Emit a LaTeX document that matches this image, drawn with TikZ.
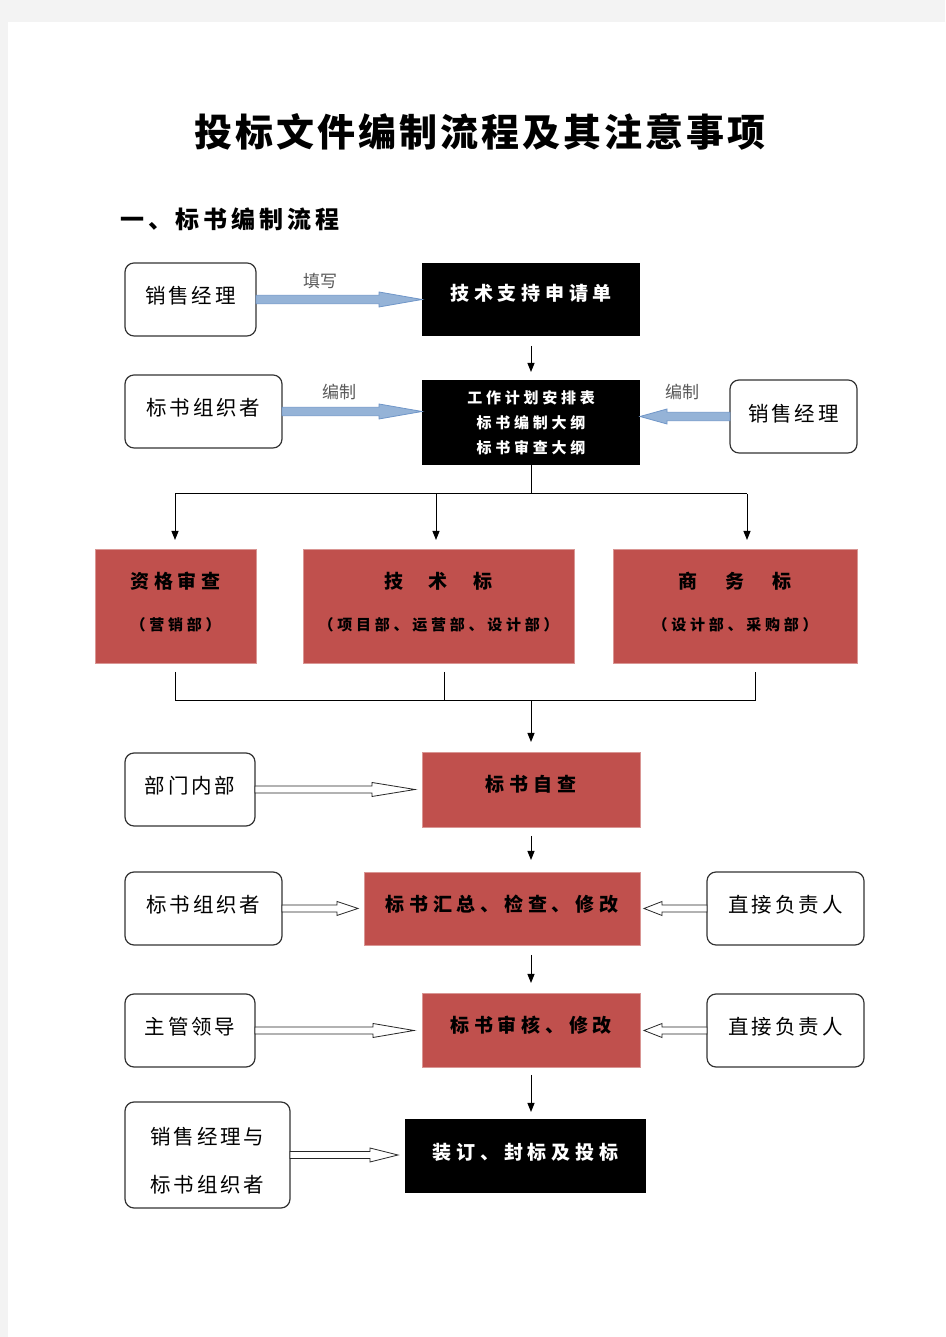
\documentclass[tikz,border=0pt]{standalone}
\usepackage{fontspec}
\setmainfont{Noto Sans CJK SC}
\newfontfamily\cjkA[LetterSpace=14]{Noto Sans CJK SC}
\newfontfamily\cjkB[LetterSpace=25]{Noto Sans CJK SC}
\newfontfamily\cjkT[LetterSpace=8]{Noto Sans CJK SC}
\newfontfamily\cjkH[LetterSpace=16]{Noto Sans CJK SC}
\usetikzlibrary{arrows.meta,calc}
\definecolor{pagegray}{HTML}{F3F3F3}
\definecolor{tred}{HTML}{C0504D}
\definecolor{tredline}{HTML}{D99694}
\definecolor{blfill}{HTML}{95B3D7}
\definecolor{bledge}{HTML}{7096C8}
\definecolor{lblgray}{HTML}{595959}
\definecolor{boxgray}{HTML}{333333}
\newcommand\up[2][9pt]{\raisebox{#1}{#2}}
\tikzset{
  rbox/.style={draw=boxgray, line width=1.2pt, rounded corners=9pt, fill=white,
    inner sep=0pt, outer sep=0pt, font=\cjkA\fontsize{20.5}{48}\selectfont, align=center},
  blkbox/.style={fill=black, text=white, inner sep=0pt, outer sep=0pt,
    font=\cjkB\bfseries\fontsize{19}{25}\selectfont, align=center},
  redbox/.style={fill=tred, draw=tredline, line width=0.6pt, inner sep=0pt, outer sep=0pt,
    font=\cjkB\bfseries\fontsize{19}{25}\selectfont},
  bigtxt/.style={inner sep=0pt, font=\cjkB\bfseries\fontsize{19}{25}\selectfont},
  smalltxt/.style={inner sep=0pt, font=\cjkB\bfseries\fontsize{15}{25}\selectfont},
  conn/.style={line width=1pt, draw=black},
  arr/.style={conn, -{Triangle[length=9pt,width=7pt]}},
  bluearr/.style={fill=blfill, draw=bledge, line width=0.8pt},
  hollowarr/.style={fill=white, draw=black!85, line width=0.8pt},
  lbl/.style={text=lblgray, inner sep=0pt, font=\fontsize{17}{20}\selectfont}
}
% fat arrow: style, from, to, half shaft, head length, half head
\newcommand\fatarr[6]{%
  \path[#1] let \p1=(#2), \p2=(#3), \n1={ifthenelse(\x2>\x1,1,-1)} in
    (\x1,\y1+#4pt) -- (\x2-\n1*#5pt,\y1+#4pt) -- (\x2-\n1*#5pt,\y1+#6pt) -- (\x2,\y1)
    -- (\x2-\n1*#5pt,\y1-#6pt) -- (\x2-\n1*#5pt,\y1-#4pt) -- (\x1,\y1-#4pt) -- cycle;}
\begin{document}
\begin{tikzpicture}[x=1pt,y=1pt]
\useasboundingbox (0,0) rectangle (945,1337);
\fill[pagegray] (0,0) rectangle (945,1337);
\fill[white] (8,0) rectangle (945,1315);

% titles
\node[inner sep=0pt, font=\cjkT\bfseries\fontsize{38}{40}\selectfont] (title) at (480,1205) {投标文件编制流程及其注意事项};
\node[inner sep=0pt, anchor=west, font=\cjkH\bfseries\fontsize{24}{28}\selectfont] (head) at (120,1118) {一、标书编制流程};

% row 1
\node[rbox, minimum width=131pt, minimum height=73pt] (A1) at (190.5,1037.5) {\up{销售经理}};
\node[blkbox, minimum width=218pt, minimum height=73pt] (B1) at (531,1037.5) {\up[14pt]{技术支持申请单}};
\fatarr{bluearr}{A1.east}{B1.west}{4.2}{43}{7.5}
\node[lbl] (l1) at (320,1056) {填写};

% row 2
\node[rbox, minimum width=157pt, minimum height=73pt] (A2) at (203.5,925.5) {\up{标书组织者}};
\node[blkbox, minimum width=218pt, minimum height=85pt,
  font=\cjkB\bfseries\fontsize{15}{25}\selectfont] (B2) at (531,914.5) {工作计划安排表\\标书编制大纲\\标书审查大纲};
\node[rbox, minimum width=127pt, minimum height=73pt] (C2) at (793.5,920.5) {\up[7pt]{销售经理}};
\fatarr{bluearr}{A2.east}{B2.west}{4.2}{43}{7.5}
\fatarr{bluearr}{C2.west}{B2.east}{4.2}{27}{7.5}
\node[lbl] (l2) at (339,945) {编制};
\node[lbl] (l3) at (682,945) {编制};
\draw[arr] ($(B1.south)+(0,-10)$) -- ($(B2.north)+(0,8)$);

% red row
\node[redbox, minimum width=161pt, minimum height=114pt] (R1) at (175.5,731) {};
\node[redbox, minimum width=271pt, minimum height=114pt] (R2) at (438.5,731) {};
\node[redbox, minimum width=244pt, minimum height=114pt] (R3) at (735,731) {};
\node[bigtxt] (R1a) at ($(R1.center)+(0,25)$) {资格审查};
\node[smalltxt] (R1b) at ($(R1.center)+(0,-19)$) {（营销部）};
\node[bigtxt] (R2a) at ($(R2.center)+(0,25)$) {技\hspace{26pt}术\hspace{26pt}标};
\node[smalltxt] (R2b) at ($(R2.center)+(0,-19)$) {（项目部、运营部、设计部）};
\node[bigtxt] (R3a) at ($(R3.center)+(0,25)$) {商\hspace{28pt}务\hspace{28pt}标};
\node[smalltxt] (R3b) at ($(R3.center)+(0,-19)$) {（设计部、采购部）};

% upper bus
\coordinate (bus0) at (531,843);
\coordinate (busL) at (175,843);
\coordinate (busM) at (436,843);
\coordinate (busR) at (747,843);
\draw[conn] (B2.south) -- (bus0);
\draw[conn] (busL) -- (busR);
\draw[arr] (busL) -- ($(busL |- R1.north)+(0,9)$);
\draw[arr] (busM) -- ($(busM |- R2.north)+(0,9)$);
\draw[arr] (busR) -- ($(busR |- R3.north)+(0,9)$);

% lower bus
\coordinate (lt1) at (175,665);
\coordinate (lt2) at (444,665);
\coordinate (lt3) at (755,665);
\coordinate (lb1) at (175,636);
\coordinate (lb2) at (444,636);
\coordinate (lb3) at (755,636);
\coordinate (lb0) at (531,636);
\draw[conn] (lt1) -- (lb1) -- (lb3) -- (lt3);
\draw[conn] (lt2) -- (lb2);

% self check
\node[rbox, minimum width=130pt, minimum height=73pt] (D1) at (190,547.5) {\up{部门内部}};
\node[redbox, minimum width=218pt, minimum height=75pt] (S1) at (531,547.5) {\up[13pt]{标书自查}};
\draw[arr] (lb0) -- ($(S1.north)+(0,10)$);
\fatarr{hollowarr}{D1.east}{$(S1.west)+(-7,0)$}{3.5}{43}{7}

% summary
\node[rbox, minimum width=157pt, minimum height=73pt] (D2) at (203.5,428.5) {\up{标书组织者}};
\node[redbox, minimum width=276pt, minimum height=73pt] (S2) at (502,428.5) {\up[11pt]{标书汇总、检查、修改}};
\node[rbox, minimum width=157pt, minimum height=73pt] (E2) at (785.5,428.5) {\up{直接负责人}};
\draw[arr] ($(S1.south)+(0,-9)$) -- ($(S1.south |- S2.north)+(0,12)$);
\fatarr{hollowarr}{D2.east}{$(S2.west)+(-6,0)$}{3.5}{21}{7}
\fatarr{hollowarr}{E2.west}{$(S2.east)+(4,0)$}{3.5}{18}{7}

% review
\node[rbox, minimum width=130pt, minimum height=73pt] (D3) at (190,306.5) {\up{主管领导}};
\node[redbox, minimum width=218pt, minimum height=74pt] (S3) at (531,307) {\up[12pt]{标书审核、修改}};
\node[rbox, minimum width=157pt, minimum height=73pt] (E3) at (785.5,306.5) {\up{直接负责人}};
\draw[arr] ($(S3.north |- S2.south)+(0,-10)$) -- ($(S3.north)+(0,10)$);
\fatarr{hollowarr}{D3.east}{$(S3.west)+(-8,0)$}{3.5}{41}{7}
\fatarr{hollowarr}{E3.west}{$(S3.east)+(4,0)$}{3.5}{18}{7}

% final
\node[rbox, minimum width=165pt, minimum height=106pt] (D4) at (207.5,182) {};
\node[inner sep=0pt, font=\cjkA\fontsize{20.5}{48}\selectfont] (D4a) at (207.5,200) {销售经理与};
\node[inner sep=0pt, font=\cjkA\fontsize{20.5}{48}\selectfont] (D4b) at (207.5,152) {标书组织者};
\node[blkbox, minimum width=241pt, minimum height=74pt] (S4) at (525.5,181) {\up[10pt]{装订、封标及投标}};
\draw[arr] ($(S3.south)+(0,-8)$) -- ($(S3.south |- S4.north)+(0,7)$);
\fatarr{hollowarr}{D4.east}{$(S4.west)+(-7,0)$}{3.5}{28}{7}
\end{tikzpicture}
\end{document}
